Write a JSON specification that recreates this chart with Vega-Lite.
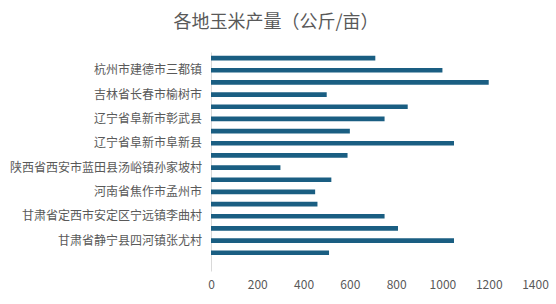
{
  "$schema": "https://vega.github.io/schema/vega-lite/v6.json",
  "autosize": "none",
  "width": 324,
  "height": 219,
  "padding": {"left": 211, "top": 52, "right": 21, "bottom": 33},
  "background": "#ffffff",
  "config": {
    "view": {"stroke": null},
    "font": "Noto Sans CJK SC"
  },
  "title": {
    "text": "各地玉米产量（公斤/亩）",
    "fontSize": 18,
    "fontWeight": "normal",
    "color": "#595959",
    "font": "Noto Sans CJK SC",
    "anchor": "middle",
    "dx": -97,
    "offset": 20
  },
  "data": {
    "values": [
      {"idx": 1, "name": "", "yield": 710},
      {"idx": 2, "name": "杭州市建德市三都镇", "yield": 1000},
      {"idx": 3, "name": "", "yield": 1200},
      {"idx": 4, "name": "吉林省长春市榆树市", "yield": 500},
      {"idx": 5, "name": "", "yield": 850},
      {"idx": 6, "name": "辽宁省阜新市彰武县", "yield": 750},
      {"idx": 7, "name": "", "yield": 600},
      {"idx": 8, "name": "辽宁省阜新市阜新县", "yield": 1050},
      {"idx": 9, "name": "", "yield": 590},
      {"idx": 10, "name": "陕西省西安市蓝田县汤峪镇孙家坡村", "yield": 300},
      {"idx": 11, "name": "", "yield": 520},
      {"idx": 12, "name": "河南省焦作市孟州市", "yield": 450},
      {"idx": 13, "name": "", "yield": 460},
      {"idx": 14, "name": "甘肃省定西市安定区宁远镇李曲村", "yield": 750},
      {"idx": 15, "name": "", "yield": 808},
      {"idx": 16, "name": "甘肃省静宁县四河镇张尤村", "yield": 1050},
      {"idx": 17, "name": "", "yield": 510},
      {"idx": 18, "name": "", "yield": 0}
    ]
  },
  "encoding": {
    "y": {
      "field": "idx",
      "type": "ordinal",
      "scale": {"paddingInner": 0.62, "paddingOuter": 0.31},
      "axis": {
        "labels": false,
        "ticks": false,
        "title": null,
        "domainColor": "#d9d9d9",
        "domainWidth": 1
      }
    }
  },
  "layer": [
    {
      "mark": {"type": "bar", "color": "#1a5e82"},
      "encoding": {
        "x": {
          "field": "yield",
          "type": "quantitative",
          "scale": {"domain": [0, 1400], "nice": false},
          "axis": {
            "values": [0, 200, 400, 600, 800, 1000, 1200, 1400],
            "format": "d",
            "grid": false,
            "domain": false,
            "ticks": false,
            "title": null,
            "labelColor": "#595959",
            "labelFontSize": 12,
            "labelFont": "Noto Sans CJK SC",
            "labelPadding": 8,
            "labelFlush": false
          }
        }
      }
    },
    {
      "mark": {
        "type": "text",
        "align": "right",
        "baseline": "middle",
        "dx": -9,
        "fontSize": 12,
        "color": "#595959",
        "font": "Noto Sans CJK SC"
      },
      "encoding": {
        "x": {"datum": 0, "type": "quantitative"},
        "text": {"field": "name"}
      }
    }
  ]
}
